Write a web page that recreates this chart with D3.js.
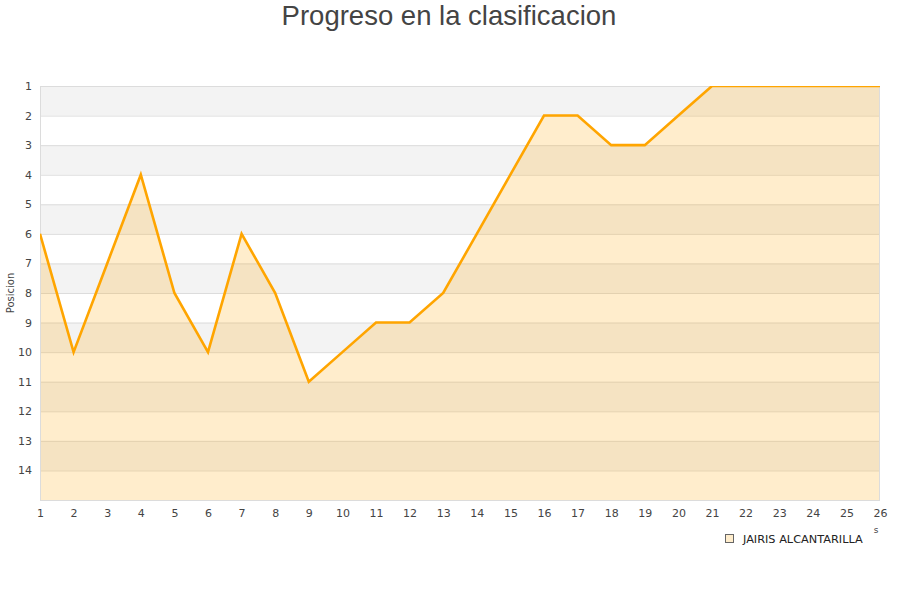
<!DOCTYPE html>
<html>
<head>
<meta charset="utf-8">
<script src="https://cdn.jsdelivr.net/npm/d3@7"></script>
<style>
  body { margin: 0; background: #fff; }
  svg { display: block; }
</style>
</head>
<body>
<svg id="chart" width="900" height="600"></svg>
<script>
var jornadas = [1, 2, 3, 4, 5, 6, 7, 8, 9, 10, 11, 12, 13, 14, 15, 16, 17, 18, 19, 20, 21, 22, 23, 24, 25, 26];
var posiciones = [6, 10, 7, 4, 8, 10, 6, 8, 11, 10, 9, 9, 8, 6, 4, 2, 2, 3, 3, 2, 1, 1, 1, 1, 1, 1];
var posTicks = [1, 2, 3, 4, 5, 6, 7, 8, 9, 10, 11, 12, 13, 14];
var equipo = "JAIRIS ALCANTARILLA";

var svg = d3.select("#chart"),
    margin = {top: 86, right: 20, bottom: 100, left: 40},
    width = +svg.attr("width") - margin.left - margin.right,
    height = +svg.attr("height") - margin.top - margin.bottom;

var x = d3.scaleLinear().domain([1, 26]).range([0, width]),
    y = d3.scaleLinear().domain([1, 15]).range([0, height]);

var data = jornadas.map(function (d, i) { return {j: d, p: posiciones[i]}; });

svg.append("text")
    .attr("x", 449)
    .attr("y", 25)
    .attr("text-anchor", "middle")
    .attr("font-family", "Liberation Sans, Arial, sans-serif")
    .attr("font-size", 27.5)
    .attr("fill", "#444")
    .text("Progreso en la clasificacion");

var g = svg.append("g")
    .attr("transform", "translate(" + margin.left + "," + margin.top + ")");

g.append("clipPath").attr("id", "clip")
    .append("rect").attr("width", width).attr("height", height);

// bandas alternas
g.selectAll(".band")
    .data(posTicks)
    .enter()
    .append("rect")
    .attr("x", 0)
    .attr("y", function (d) { return y(d); })
    .attr("width", width)
    .attr("height", function (d) { return y(d + 1) - y(d); })
    .attr("fill", function (d) { return d % 2 === 1 ? "#f3f3f3" : "#ffffff"; });

// grid
g.selectAll(".grid")
    .data(posTicks)
    .enter()
    .append("line")
    .attr("x1", 0)
    .attr("x2", width)
    .attr("y1", function (d) { return y(d) + 0.5; })
    .attr("y2", function (d) { return y(d) + 0.5; })
    .attr("stroke", "#dcdcdc")
    .attr("stroke-width", 1);

var area = d3.area()
    .x(function (d) { return x(d.j); })
    .y0(height)
    .y1(function (d) { return y(d.p); });

var line = d3.line()
    .x(function (d) { return x(d.j); })
    .y(function (d) { return y(d.p); });

g.append("path")
    .datum(data)
    .attr("d", area)
    .attr("fill", "rgba(255,165,0,0.2)");

// ejes
g.append("line")
    .attr("x1", 0.5).attr("x2", 0.5)
    .attr("y1", 0).attr("y2", height)
    .attr("stroke", "#dcdcdc");
g.append("line")
    .attr("x1", width - 0.5).attr("x2", width - 0.5)
    .attr("y1", 0).attr("y2", height)
    .attr("stroke", "#dcdcdc");
g.append("line")
    .attr("x1", 0).attr("x2", width)
    .attr("y1", height + 0.5).attr("y2", height + 0.5)
    .attr("stroke", "#dcdcdc");

g.append("path")
    .datum(data)
    .attr("d", line)
    .attr("clip-path", "url(#clip)")
    .attr("fill", "none")
    .attr("stroke", "#ffa500")
    .attr("stroke-width", 2.6)
    .attr("stroke-linejoin", "miter");

var yAxis = g.append("g")
    .call(d3.axisLeft(y).tickValues(posTicks).tickSize(0).tickPadding(8));
yAxis.select(".domain").remove();
yAxis.selectAll("text")
    .attr("font-family", "DejaVu Sans, sans-serif")
    .attr("font-size", 11)
    .attr("fill", "#444");

var xAxis = g.append("g")
    .attr("transform", "translate(0," + height + ")")
    .call(d3.axisBottom(x).tickValues(jornadas).tickFormat(d3.format("d")).tickSize(0).tickPadding(9));
xAxis.select(".domain").remove();
xAxis.selectAll("text")
    .attr("font-family", "DejaVu Sans, sans-serif")
    .attr("font-size", 11)
    .attr("fill", "#444");

svg.append("text")
    .attr("transform", "translate(14," + (margin.top + height / 2) + ") rotate(-90)")
    .attr("text-anchor", "middle")
    .attr("font-family", "DejaVu Sans, sans-serif")
    .attr("font-size", 10)
    .attr("fill", "#444")
    .text("Posicion");

svg.append("text")
    .attr("x", 876)
    .attr("y", 533)
    .attr("text-anchor", "middle")
    .attr("font-family", "DejaVu Sans, sans-serif")
    .attr("font-size", 9)
    .attr("fill", "#444")
    .text("s");

// leyenda
var legend = svg.append("g").attr("transform", "translate(725,534)");
legend.append("rect")
    .attr("x", 0.5).attr("y", 0.5)
    .attr("width", 8).attr("height", 8)
    .attr("fill", "#ffedcc")
    .attr("stroke", "#666")
    .attr("stroke-width", 1);
legend.append("text")
    .attr("x", 18)
    .attr("y", 8.5)
    .attr("font-family", "DejaVu Sans, sans-serif")
    .attr("font-size", 11.3)
    .attr("fill", "#222")
    .text(equipo);
</script>
</body>
</html>
